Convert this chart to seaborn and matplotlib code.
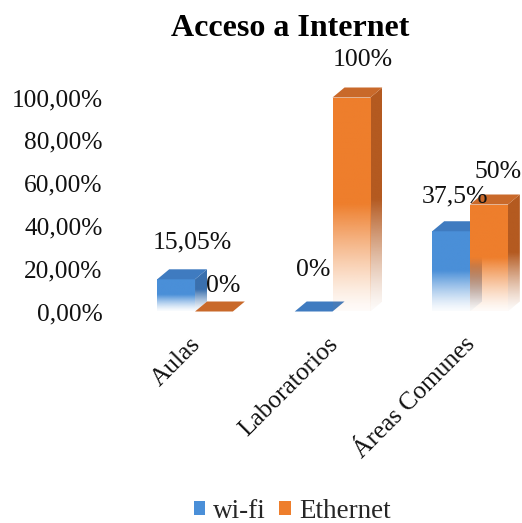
import numpy as np
import pandas as pd
import matplotlib
matplotlib.use("Agg")
import matplotlib.pyplot as plt
from matplotlib.patches import Polygon, Patch
from matplotlib.colors import to_rgb
from matplotlib.transforms import ScaledTranslation
import seaborn as sns

# ---- data ----
categories = ["Aulas", "Laboratorios", "Áreas Comunes"]
series_names = ["wi-fi", "Ethernet"]
wifi = [0.1505, 0.0, 0.375]
ethernet = [0.0, 1.0, 0.50]
ytick_values = [0.0, 0.2, 0.4, 0.6, 0.8, 1.0]
ytick_labels = ["0,00%", "20,00%", "40,00%", "60,00%", "80,00%", "100,00%"]
title = "Acceso a Internet"

# ---- style ----
front_colors = ["#4A8FD8", "#EE7E2C"]
top_colors = ["#3F7BC0", "#C9692A"]
side_colors = ["#3A70AE", "#B45A20"]
# label nudges (pixels, right/up) for each bar's value label
label_nudge = [[(16, 37), (0, 41), (4, 35)],
               [(9, 25), (11, 37), (9, 32)]]

sns.set_theme(style="white")
plt.rcParams["font.family"] = ["Liberation Serif", "DejaVu Serif"]

df = pd.DataFrame({
    "lugar": categories * 2,
    "tipo": [series_names[0]] * 3 + [series_names[1]] * 3,
    "valor": wifi + ethernet,
})

W, H, DPI = 522, 523, 100
fig = plt.figure(figsize=(W / DPI, H / DPI), dpi=DPI)
fig.patch.set_facecolor("white")

# axes geometry in pixels
px_per_cat = 137.5
px_per_unit = 214.0
x_lo, y_top_lim = -0.55, 1.2
ax_left, ax_right, ax_bottom = 119.4, 522.0, 311.5
x_hi = x_lo + (ax_right - ax_left) / px_per_cat
ax_h = y_top_lim * px_per_unit
ax = fig.add_axes([ax_left / W, (H - ax_bottom) / H,
                   (ax_right - ax_left) / W, ax_h / H])

sns.barplot(data=df, x="lugar", y="valor", hue="tipo",
            palette=front_colors, width=0.55, saturation=1,
            legend=False, ax=ax, order=categories, hue_order=series_names)

ax.set_xlim(x_lo, x_hi)
ax.set_ylim(0, y_top_lim)

# 3D depth, in data units
dxd = 12 / px_per_cat
dyd = 10 / px_per_unit


def fade_fill(x0, x1, y0, y1, rgb, clip, z):
    n = 256
    t = np.linspace(0, 1, n)
    alpha = np.where(t > 0.5, 1.0, 0.03 + 0.97 * (t / 0.5) ** 1.3)
    img = np.zeros((n, 1, 4))
    img[:, 0, :3] = rgb
    img[:, 0, 3] = alpha
    im = ax.imshow(img, extent=[x0, x1, y0, y1], origin="lower",
                   aspect="auto", interpolation="bilinear", zorder=z)
    im.set_clip_path(clip)


def fmt_pct(v):
    s = f"{v * 100:.2f}".rstrip("0").rstrip(".")
    return s.replace(".", ",") + "%"


series_values = [wifi, ethernet]
for si, cont in enumerate(ax.containers):
    for ci, bar in enumerate(cont):
        x0 = bar.get_x()
        w = bar.get_width()
        h = bar.get_height()
        x1 = x0 + w
        z = 2 + si + ci * 0.1
        bar.set_facecolor("none")
        bar.set_edgecolor("none")
        if h > 0:
            side = Polygon([(x1, 0), (x1 + dxd, dyd), (x1 + dxd, h + dyd), (x1, h)],
                           closed=True, facecolor="none", edgecolor="none", zorder=z)
            ax.add_patch(side)
            fade_fill(x1, x1 + dxd, 0, h + dyd, to_rgb(side_colors[si]), side, z)
            fade_fill(x0, x1, 0, h, to_rgb(front_colors[si]), bar, z + 0.01)
        top = Polygon([(x0, h), (x0 + dxd, h + dyd), (x1 + dxd, h + dyd), (x1, h)],
                      closed=True, facecolor=top_colors[si], edgecolor="none",
                      zorder=z + 0.02)
        ax.add_patch(top)
        nx, ny = label_nudge[si][ci]
        ax.annotate(fmt_pct(series_values[si][ci]), xy=(x0 + w / 2, h),
                    xytext=(nx * 72 / DPI, ny * 72 / DPI), textcoords="offset points",
                    ha="center", va="center", fontsize=18.5, color="#111111", zorder=10)

ax.set_xlim(x_lo, x_hi)
ax.set_ylim(0, y_top_lim)

ax.set_yticks(ytick_values)
ax.set_yticklabels(ytick_labels)
ax.set_xticks(range(len(categories)))
ax.set_xticklabels(categories, rotation=45, ha="right", rotation_mode="anchor")
ax.tick_params(axis="y", length=0, pad=12, labelsize=18.3, labelcolor="#111111")
ax.tick_params(axis="x", length=0, pad=15.5, labelsize=18.3, labelcolor="#111111")
shift = ScaledTranslation(-6 / DPI, 0, fig.dpi_scale_trans)
for lab in ax.get_xticklabels():
    lab.set_transform(lab.get_transform() + shift)
ax.set_xlabel("")
ax.set_ylabel("")
for sp in ax.spines.values():
    sp.set_visible(False)
ax.grid(False)

fig.text(290 / W, 1 - 28 / H, title, ha="center", va="center",
         fontsize=23, fontweight="bold", color="#000000")

handles = [Patch(facecolor=front_colors[i], edgecolor="none") for i in range(2)]
fig.legend(handles, series_names, loc="center", ncol=2,
           bbox_to_anchor=(292 / W, 1 - 511 / H), frameon=False, fontsize=19.5,
           handlelength=0.42, handleheight=0.42, handletextpad=0.3,
           columnspacing=0.5, borderpad=0)

fig.savefig("out.png", dpi=DPI, facecolor="white")
